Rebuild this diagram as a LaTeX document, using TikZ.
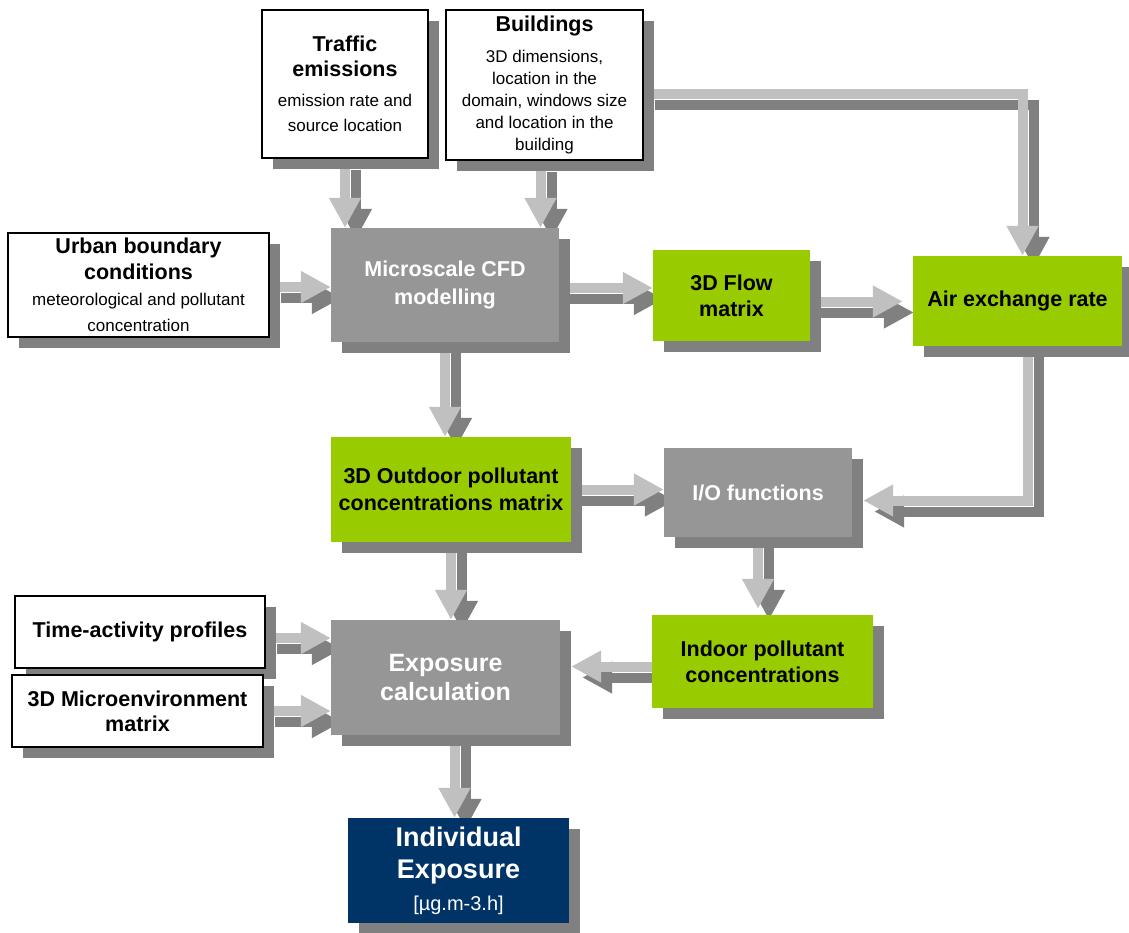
\documentclass[tikz,border=0pt]{standalone}
\usepackage{fontspec}
\setmainfont{Liberation Sans}
\usetikzlibrary{arrows.meta,shadows,calc}

\definecolor{boxgray}{HTML}{969696}
\definecolor{shadegray}{HTML}{808080}
\definecolor{pipegray}{HTML}{C0C0C0}
\definecolor{leafgreen}{HTML}{99CC00}
\definecolor{deepnavy}{HTML}{003366}

\pgfdeclarelayer{back}
\pgfsetlayers{back,main}

\newcommand{\titlefont}{\fontsize{21.5}{25}\selectfont\bfseries}
\newcommand{\bodyfont}{\normalfont\fontsize{17}{22}\selectfont}
% shaded arrow first, light arrow on top
\newcommand{\feedarrow}[1]{\draw[feed shade] #1; \draw[feed] #1;}

\begin{document}
\begin{tikzpicture}[x=1pt,y=-1pt,
  box/.style={rectangle,inner sep=0pt,align=center,
    drop shadow={shadow xshift=11pt,shadow yshift=-11pt,fill=shadegray,opacity=1}},
  dims/.style 2 args={minimum width=#1pt,minimum height=#2pt},
  inbox/.style={box,fill=white,draw=black,line width=1.2pt,font=\titlefont},
  procbox/.style={box,fill=boxgray,text=white,font=\titlefont},
  databox/.style={box,fill=leafgreen,text=black,font=\titlefont},
  endbox/.style={box,fill=deepnavy,text=white},
  feed/.style={line width=10pt,draw=pipegray,-{Triangle[width=30pt,length=30pt]}},
  feed shade/.style={feed,draw=shadegray,transform canvas={shift={(11pt,-11pt)}}}]
\useasboundingbox (0,0) rectangle (1129,932);

% inputs
\node[inbox,dims={166}{148}] (traffic) at (345,84)
  {Traffic\\emissions\\[5pt]\bodyfont emission rate and\\\bodyfont source location};
\node[inbox,dims={197}{150},font=\bodyfont] (buildings) at (544.5,85)
  {\titlefont Buildings\\[9pt]3D dimensions,\\location in the\\domain, windows size\\and location in the\\building};
\node[inbox,dims={261}{104},font=\fontsize{21.5}{26}\selectfont\bfseries] (urban) at (138.5,285)
  {Urban boundary\\conditions\\\bodyfont meteorological and pollutant\\\bodyfont concentration};
\node[inbox,dims={250}{72}] (timeact) at (140,632) {Time-activity profiles};
\node[inbox,dims={251}{72}] (micro) at (137.5,711) {3D Microenvironment\\matrix};

% processing
\node[procbox,dims={228}{114},font=\fontsize{21.5}{28}\selectfont\bfseries] (cfd) at (445,285)
  {Microscale CFD\\modelling};
\node[procbox,dims={188}{89}] (io) at (758,492.5) {I/O functions};
\node[procbox,dims={229}{115},font=\fontsize{25}{29}\selectfont\bfseries] (exposure) at (445.5,677.5)
  {Exposure\\calculation};

% intermediate results
\node[databox,dims={157}{91},font=\fontsize{21.5}{26}\selectfont\bfseries] (flow) at (731.5,295.5)
  {3D Flow\\matrix};
\node[databox,dims={209}{90}] (air) at (1017.5,301) {Air exchange rate};
\node[databox,dims={240}{105},font=\fontsize{21.5}{27}\selectfont\bfseries] (outdoor) at (451,489.5)
  {3D Outdoor pollutant\\concentrations matrix};
\node[databox,dims={221}{93},font=\fontsize{21.5}{26}\selectfont\bfseries] (indoor) at (762.5,661.5)
  {Indoor pollutant\\concentrations};

\node[endbox,dims={221}{105},font=\fontsize{27}{32}\selectfont\bfseries] (indiv) at (458.5,870.5)
  {Individual\\Exposure\\\normalfont\fontsize{20}{22}\selectfont [µg.m-3.h]};

\begin{pgfonlayer}{back}
\feedarrow{(traffic.south) -- (traffic.south |- cfd.north)}
\feedarrow{($(buildings.south)+(-4,0)$) -- ($(buildings.south |- cfd.north)+(-4,0)$)}
\feedarrow{($(buildings.east)+(0,9)$) -| ($(air.north)+(5,0)$)}
\feedarrow{($(urban.east)+(0,2)$) -- ($(urban.east -| cfd.west)+(0,2)$)}
\feedarrow{($(cfd.east)+(0,3)$) -- ($(cfd.east -| flow.west)+(0,3)$)}
\feedarrow{($(flow.east)+(0,6)$) -- ($(flow.east -| air.west)+(-10,6)$)}
\feedarrow{(cfd.south) -- (cfd.south |- outdoor.north)}
\feedarrow{(outdoor.east) -- (outdoor.east -| io.west)}
\feedarrow{($(air.south)+(10,0)$) |- ($(io.east)+(11,8)$)}
\feedarrow{(io.south) -- ($(io.south |- indoor.north)+(0,-6)$)}
\feedarrow{($(indoor.west)+(0,5)$) -- ($(indoor.west -| exposure.east)+(11,5)$)}
\feedarrow{(outdoor.south) -- (outdoor.south |- exposure.north)}
\feedarrow{($(timeact.east)+(0,6)$) -- ($(timeact.east -| exposure.west)+(0,6)$)}
\feedarrow{(micro.east) -- (micro.east -| exposure.west)}
\feedarrow{($(exposure.south)+(9,0)$) -- ($(exposure.south |- indiv.north)+(9,0)$)}
\end{pgfonlayer}
\end{tikzpicture}
\end{document}
